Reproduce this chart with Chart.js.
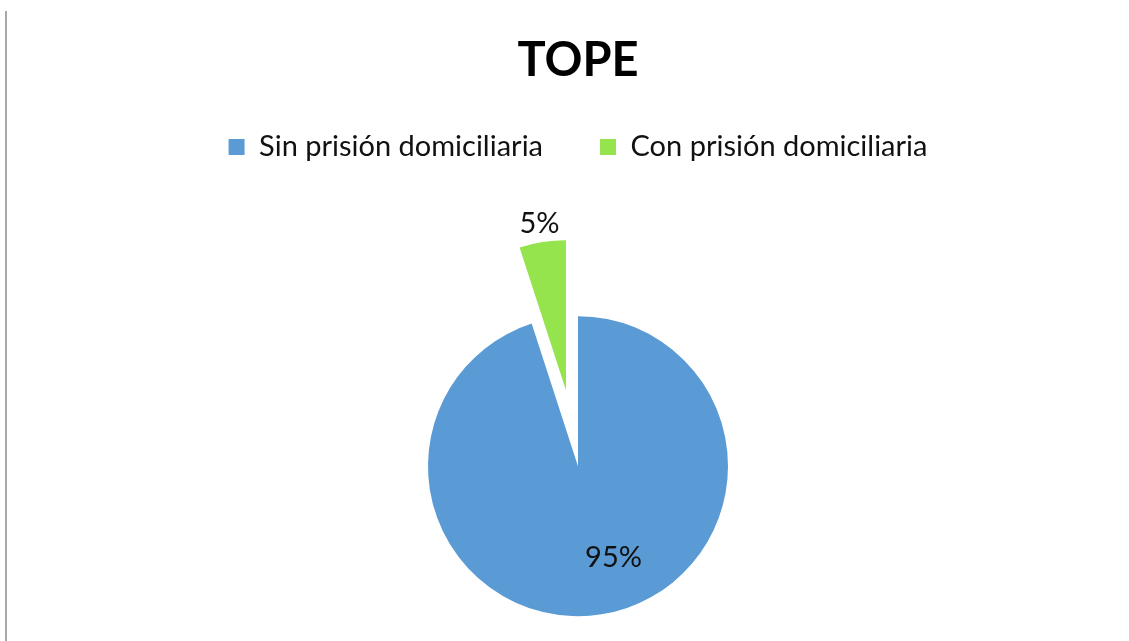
<!DOCTYPE html>
<html lang="es">
<head>
<meta charset="utf-8">
<title>TOPE</title>
<script src="https://cdn.jsdelivr.net/npm/chart.js@4.4.1/dist/chart.umd.min.js"></script>
<style>
  html, body { margin: 0; padding: 0; background: #ffffff; overflow: hidden; }
  #frame { position: relative; width: 1129px; height: 641px; }
  #rule { position: absolute; left: 5px; top: 11px; bottom: 0; width: 2px; background: #a8a8a8; }
  #chart { position: absolute; left: 0; top: 0; }
</style>
</head>
<body>
<div id="frame">
  <div id="rule"></div>
  <canvas id="chart" width="1129" height="641"></canvas>
</div>
<script>
// Chart data
const chartTitle = 'TOPE';
const categories = ['Sin prisión domiciliaria', 'Con prisión domiciliaria'];
const shares = [95, 5];
const sliceColors = ['#5B9BD5', '#95E34D'];
// How far each slice is pulled out of the pie, in pixels
const explodeBy = [0, 77];

// Pie controller that pulls slices out along their bisector (plain translation)
class ExplodedPieController extends Chart.PieController {
  draw() {
    const ctx = this.chart.ctx;
    const area = this.chart.chartArea;
    const shifts = this.getDataset().explode || [];
    this._cachedMeta.data.forEach((arc, i) => {
      const d = shifts[i] || 0;
      const mid = (arc.startAngle + arc.endAngle) / 2;
      ctx.save();
      ctx.translate(Math.cos(mid) * d, Math.sin(mid) * d);
      arc.draw(ctx, area);
      ctx.restore();
    });
  }
}
ExplodedPieController.id = 'explodedPie';
ExplodedPieController.defaults = Chart.PieController.defaults;
ExplodedPieController.overrides = Chart.PieController.overrides;
Chart.register(ExplodedPieController);

// Extra room between the legend and the plot area
const legendGap = {
  id: 'legendGap',
  beforeInit(chart, args, opts) {
    const fit = chart.legend.fit;
    chart.legend.fit = function () {
      fit.call(this);
      this.height += opts.space || 0;
    };
  }
};

// Percentage labels: inside for slices in place, outside for pulled-out slices
const valueLabels = {
  id: 'valueLabels',
  afterDatasetsDraw(chart, args, opts) {
    const ctx = chart.ctx;
    const ds = chart.data.datasets[0];
    const meta = chart.getDatasetMeta(0);
    const total = ds.data.reduce((a, b) => a + b, 0);
    const shifts = ds.explode || [];
    ctx.save();
    ctx.font = opts.font;
    ctx.fillStyle = opts.color;
    ctx.textAlign = 'center';
    ctx.textBaseline = 'middle';
    meta.data.forEach((arc, i) => {
      const mid = (arc.startAngle + arc.endAngle) / 2;
      const d = shifts[i] || 0;
      let r, dx = 0;
      if (d > 0) {
        r = d + arc.outerRadius + opts.outsideGap;
      } else {
        r = arc.outerRadius * opts.insideRatio;
        dx = opts.insideNudgeX;
      }
      const x = arc.x + Math.cos(mid) * r + dx;
      const y = arc.y + Math.sin(mid) * r;
      const pct = Math.round(ds.data[i] / total * 100) + '%';
      ctx.fillText(pct, x, y);
    });
    ctx.restore();
  }
};

new Chart(document.getElementById('chart'), {
  type: 'explodedPie',
  data: {
    labels: categories,
    datasets: [{
      data: shares,
      backgroundColor: sliceColors,
      borderWidth: 0,
      explode: explodeBy,
      clip: false
    }]
  },
  options: {
    responsive: false,
    animation: false,
    radius: 150,
    layout: { padding: { left: 27, right: 0, top: 0, bottom: 0 } },
    events: [],
    plugins: {
      title: {
        display: true,
        text: chartTitle,
        color: '#000000',
        font: { family: 'Lato', size: 47, weight: 'bold', lineHeight: 1.2 },
        padding: { top: 33, bottom: -14 }
      },
      legend: {
        display: true,
        position: 'top',
        labels: {
          color: '#111111',
          font: { family: 'Lato', size: 29 },
          boxWidth: 16,
          boxHeight: 16,
          padding: 57
        }
      },
      tooltip: { enabled: false },
      legendGap: { space: 120 },
      valueLabels: {
        font: '29px Lato',
        color: '#111111',
        insideRatio: 0.62,
        insideNudgeX: 21,
        outsideGap: 19
      }
    }
  },
  plugins: [legendGap, valueLabels]
});
</script>
</body>
</html>
